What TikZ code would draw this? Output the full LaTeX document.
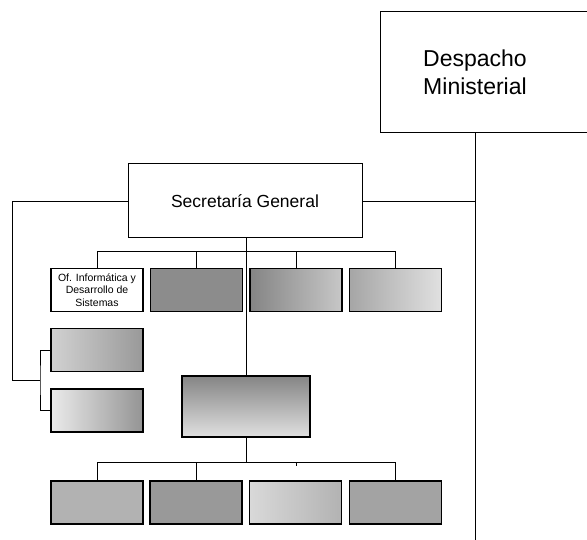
\documentclass[tikz,border=0pt]{standalone}
\usepackage{fontspec}
\setmainfont{Liberation Sans}
\begin{document}
\begin{tikzpicture}[x=1pt,y=-1pt,
  conn/.style={line width=0.8pt},
  plainbox/.style={draw, line width=1pt, fill=white, inner sep=0pt},
  shbox/.style={draw, line width=1.6pt, minimum width=92pt, minimum height=43pt, inner sep=0pt},
  lbl/.style={font=\fontsize{23}{28}\selectfont, align=center, inner sep=0pt}
]
\useasboundingbox (0,0) rectangle (587,540);
\clip (0,0) rectangle (587,540);
\fill[white] (0,0) rectangle (587,540);

% Despacho Ministerial
\node[plainbox, minimum width=230pt, minimum height=121pt, anchor=west] (despbox) at (380,72.5) {};
\node[lbl] (desp) at (475,72) {Despacho\\[-0pt]Ministerial};
\coordinate (vbot) at (475,540);
\draw[conn] (desp |- despbox.south) -- (vbot);

% Secretaria General
\node[plainbox, minimum width=234pt, minimum height=74pt] (sg) at (245,201) {\fontsize{17.5}{20}\selectfont Secretaría General};

% top row
\node[shbox, fill=white, align=center, font=\fontsize{10.5}{12.5}\selectfont] (t1) at (97,290) {Of. Informática y\\Desarrollo de\\Sistemas};
\node[shbox, fill=black!45] (t2) at (196.5,290) {};
\node[shbox, left color=black!48, right color=black!22] (t3) at (296,290) {};
\node[shbox, left color=black!35, right color=black!12] (t4) at (395.5,290) {};

% left boxes
\node[shbox, left color=black!18, right color=black!40] (la) at (97,350) {};
\node[shbox, left color=black!8, right color=black!42] (lb) at (97,410.5) {};

% center box
\node[shbox, minimum width=128pt, minimum height=61pt, top color=black!48, bottom color=black!12] (cen) at (246,406.5) {};

% bottom row
\node[shbox, fill=black!30] (b1) at (97,502.5) {};
\node[shbox, fill=black!40] (b2) at (196,502.5) {};
\node[shbox, left color=black!15, right color=black!30] (b3) at (295.5,502.5) {};
\node[shbox, fill=black!36] (b4) at (395.5,502.5) {};

% connectors
\draw[conn] (sg.east) -- (sg.east -| desp);
\coordinate (lft) at (12,201);
\coordinate (brk) at (40,380);
\draw[conn] (sg.west) -- (lft) |- (brk);
\draw[conn] (la.west) -| (brk) |- (lb.west);

\coordinate (tbr) at (246,251);
\draw[conn] (sg.south -| tbr) -- (cen.north);
\draw[conn] (t1.north) -- (t1.north |- tbr) -- (t4.north |- tbr) -- (t4.north);
\draw[conn] (t2.north) -- (t2.north |- tbr);
\draw[conn] (t3.north) -- (t3.north |- tbr);

\coordinate (bbr) at (246,462);
\draw[conn] (cen.south) -- (bbr);
\draw[conn] (b1.north) -- (b1.north |- bbr) -- (b4.north |- bbr) -- (b4.north);
\draw[conn] (b2.north) -- (b2.north |- bbr);
\coordinate (tick) at (296,466);
\draw[conn] (tick |- bbr) -- (tick);
\end{tikzpicture}
\end{document}
